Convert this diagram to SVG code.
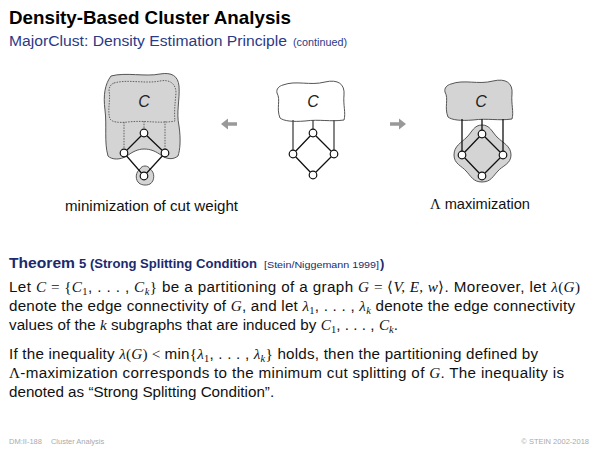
<svg xmlns="http://www.w3.org/2000/svg" width="600" height="450" viewBox="0 0 600 450">
<style>
.t{font-family:"Liberation Sans",Arial,sans-serif}
.m{font-family:"Liberation Serif","Times New Roman",serif;font-style:italic}
.r{font-family:"Liberation Serif","Times New Roman",serif}
.body{font-family:"Liberation Sans",Arial,sans-serif;font-size:15.2px;fill:#111}
.node{fill:#fff;stroke:#111;stroke-width:1.2}
.edge{stroke:#111;stroke-width:1.3;fill:none}
.blob{stroke:#555;stroke-width:1}
.lbl{font-family:"Liberation Sans",Arial,sans-serif;font-size:15px;fill:#111}
.clbl{font-family:"Liberation Sans",Arial,sans-serif;font-size:16px;font-style:italic;fill:#222}
.foot{font-family:"Liberation Sans",Arial,sans-serif;font-size:7.5px;fill:#aaa}
</style>
<rect width="600" height="450" fill="#fff"/>
<text class="t" x="9" y="24" font-size="18.5" font-weight="bold" fill="#000" textLength="282" lengthAdjust="spacingAndGlyphs">Density-Based Cluster Analysis</text>
<text class="t" x="9" y="46" font-size="15.5" fill="#2b3a86" textLength="278" lengthAdjust="spacingAndGlyphs">MajorClust: Density Estimation Principle</text>
<text class="t" x="293" y="46" font-size="10" fill="#2b3a86" textLength="54" lengthAdjust="spacingAndGlyphs">(continued)</text>

<g id="fig-left">
<path class="blob" fill="#d4d4d4" d="M111,76 C126,72 145,77 160,74 C172,72 178,76 179,86 C180,100 176,112 179,126 C181,140 180,150 178,156 C173,160 167,159 162,156 C156,151 150,149 144,149 C138,149 132,152 127,156 C120,160 112,160 108,156 C104,142 107,126 105,110 C103,95 105,84 111,76 Z"/>
<path d="M114,83 C128,79 145,84 160,81 C170,79 176,84 176,93 C175,104 174,113 175,121 C160,124 145,120 128,122 C118,123 112,122 110,119 C107,110 111,99 109,91 C109,87 111,84 114,83 Z" fill="none" stroke="#555" stroke-width="0.9" stroke-dasharray="1.5,1.2"/>
<path d="M140,169 C142,165 148,165 150,169 C155,172 155,181 150,184 C146,186 140,185 138,182 C135,178 136,172 140,169 Z" class="blob" fill="#d4d4d4"/>
<g stroke="#555" stroke-width="0.9" stroke-dasharray="1.5,1.2">
<line x1="124" y1="122" x2="124" y2="153"/>
<line x1="144" y1="121" x2="144" y2="133"/>
<line x1="165" y1="121" x2="165" y2="153"/>
</g>
<polygon class="edge" points="144,133 124,153 144,176 165,153"/>
<circle class="node" cx="144" cy="133" r="3.8"/>
<circle class="node" cx="124" cy="153" r="3.8"/>
<circle class="node" cx="165" cy="153" r="3.8"/>
<circle class="node" cx="144" cy="176" r="3.8"/>
<text class="clbl" x="144" y="107" text-anchor="middle">C</text>
<text class="lbl" x="151.5" y="211" text-anchor="middle" textLength="173" lengthAdjust="spacingAndGlyphs">minimization of cut weight</text>
</g>

<g id="fig-middle">
<path class="blob" fill="#fff" d="M283,85 C296,80 310,86 325,82 C338,79 345,84 344,95 C343,105 346,113 344,120 C330,122 320,119 305,121 C292,122 284,121 280,118 C276,108 281,100 277,93 C276,89 279,86 283,85 Z"/>
<g stroke="#444" stroke-width="1.3">
<line x1="293" y1="120" x2="293" y2="154"/>
<line x1="313" y1="120" x2="313" y2="133"/>
<line x1="334" y1="120" x2="334" y2="154"/>
</g>
<polygon class="edge" points="313,133 293,154 313,175 334,154"/>
<circle class="node" cx="313" cy="133" r="3.8"/>
<circle class="node" cx="293" cy="154" r="3.8"/>
<circle class="node" cx="334" cy="154" r="3.8"/>
<circle class="node" cx="313" cy="175" r="3.8"/>
<text class="clbl" x="313" y="107" text-anchor="middle">C</text>
</g>

<g id="fig-right">
<path class="blob" fill="#d4d4d4" d="M451,84 C464,79 478,85 493,81 C506,78 513,83 512,94 C511,104 514,112 512,119 C498,121 488,118 473,120 C460,121 452,120 448,117 C444,107 449,99 445,92 C444,88 447,85 451,84 Z"/>
<path class="blob" fill="#d4d4d4" d="M482,125 C490,125 492,132 497,137 C503,143 511,146 511,155 C511,164 502,166 498,171 C493,176 491,182 482,182 C473,182 471,176 466,171 C462,166 454,164 454,155 C454,146 461,143 467,137 C472,132 474,125 482,125 Z"/>
<g stroke="#111" stroke-width="1.3">
<line x1="462" y1="119" x2="462" y2="155"/>
<line x1="482" y1="119" x2="482" y2="134"/>
<line x1="503" y1="119" x2="503" y2="155"/>
</g>
<polygon class="edge" points="482,134 462,155 482,176 503,155"/>
<circle class="node" cx="482" cy="134" r="3.8"/>
<circle class="node" cx="462" cy="155" r="3.8"/>
<circle class="node" cx="503" cy="155" r="3.8"/>
<circle class="node" cx="482" cy="176" r="3.8"/>
<text class="clbl" x="481" y="107" text-anchor="middle">C</text>
<text class="lbl" x="430" y="209" textLength="100" lengthAdjust="spacingAndGlyphs"><tspan class="r">Λ</tspan> maximization</text>
</g>

<g id="connectors" fill="#999">
<path d="M237,122.3 L228,122.3 L228,118.5 L221,124 L228,129.5 L228,125.7 L237,125.7 Z"/>
<path d="M390,122.3 L399,122.3 L399,118.5 L406,124 L399,129.5 L399,125.7 L390,125.7 Z"/>
</g>

<g fill="#1b2a6e" font-weight="bold" class="t">
<text class="t" x="9" y="268" font-size="15.5" textLength="66" lengthAdjust="spacingAndGlyphs">Theorem</text>
<text class="t" x="79" y="268" font-size="13" textLength="178" lengthAdjust="spacingAndGlyphs">5 (Strong Splitting Condition</text>
<text class="t" x="264" y="268" font-size="9.5" font-weight="normal" textLength="115" lengthAdjust="spacingAndGlyphs">[Stein/Niggemann 1999]</text>
<text class="t" x="380" y="268" font-size="13">)</text>
</g>

<text class="body" x="9" y="292" textLength="571" lengthAdjust="spacing">Let <tspan class="m">C</tspan> <tspan class="r">= {</tspan><tspan class="m">C</tspan><tspan class="r" font-size="10.5" dy="3">1</tspan><tspan dy="-3">, . . . , </tspan><tspan class="m">C</tspan><tspan class="m" font-size="10.5" dy="3">k</tspan><tspan class="r" dy="-3">}</tspan> be a partitioning of a graph <tspan class="m">G</tspan> <tspan class="r">= ⟨</tspan><tspan class="m">V, E, w</tspan><tspan class="r">⟩</tspan>. Moreover, let <tspan class="m">λ</tspan><tspan class="r">(</tspan><tspan class="m">G</tspan><tspan class="r">)</tspan></text>
<text class="body" x="9" y="311" textLength="566" lengthAdjust="spacing">denote the edge connectivity of <tspan class="m">G</tspan>, and let <tspan class="m">λ</tspan><tspan class="r" font-size="10.5" dy="3">1</tspan><tspan dy="-3">, . . . , </tspan><tspan class="m">λ</tspan><tspan class="m" font-size="10.5" dy="3">k</tspan><tspan dy="-3"> denote the edge connectivity</tspan></text>
<text class="body" x="9" y="330" textLength="389" lengthAdjust="spacing">values of the <tspan class="m">k</tspan> subgraphs that are induced by <tspan class="m">C</tspan><tspan class="r" font-size="10.5" dy="3">1</tspan><tspan dy="-3">, . . . , </tspan><tspan class="m">C</tspan><tspan class="m" font-size="10.5" dy="3">k</tspan><tspan dy="-3">.</tspan></text>

<text class="body" x="9" y="359" textLength="529" lengthAdjust="spacing">If the inequality <tspan class="m">λ</tspan><tspan class="r">(</tspan><tspan class="m">G</tspan><tspan class="r">) &lt; </tspan>min<tspan class="r">{</tspan><tspan class="m">λ</tspan><tspan class="r" font-size="10.5" dy="3">1</tspan><tspan dy="-3">, . . . , </tspan><tspan class="m">λ</tspan><tspan class="m" font-size="10.5" dy="3">k</tspan><tspan class="r" dy="-3">}</tspan> holds, then the partitioning defined by</text>
<text class="body" x="9" y="378" textLength="555" lengthAdjust="spacing"><tspan class="r">Λ</tspan>-maximization corresponds to the minimum cut splitting of <tspan class="m">G</tspan>. The inequality is</text>
<text class="body" x="9" y="397">denoted as “Strong Splitting Condition”.</text>

<text class="foot" x="9" y="444">DM:II-188<tspan dx="9">Cluster Analysis</tspan></text>
<text class="foot" x="589" y="444" text-anchor="end">© STEIN 2002-2018</text>
</svg>
